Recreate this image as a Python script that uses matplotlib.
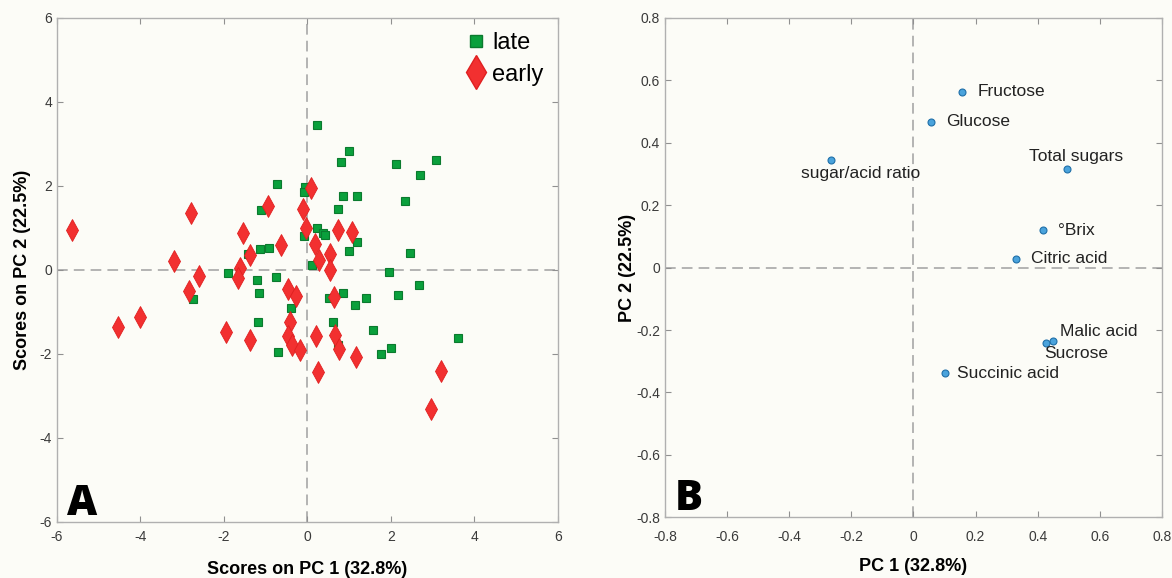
import matplotlib.pyplot as plt
from matplotlib.lines import Line2D

# scores plot (panel A)
late_x = [-0.73, -1.12, -1.14, -0.93, -1.43, -1.91, -1.21, -1.17, -0.75, -2.74,
          -1.19, -0.40, -0.71, 0.24, 0.99, 0.80, 2.11, 3.07, 2.69, -0.05,
          -0.08, 0.84, 1.19, 2.33, 0.74, 0.22, 0.37, 0.42, -0.09, 1.18,
          1.00, 2.45, 0.11, 1.96, 2.67, 2.17, 0.86, 0.52, 1.41, 1.14,
          0.60, 1.56, 3.61, 0.72, 1.77, 1.99]
late_y = [2.04, 1.42, 0.50, 0.52, 0.39, -0.07, -0.25, -0.56, -0.17, -0.70,
          -1.23, -0.91, -1.96, 3.46, 2.83, 2.58, 2.53, 2.61, 2.27, 1.98,
          1.85, 1.75, 1.77, 1.65, 1.46, 1.01, 0.87, 0.82, 0.80, 0.66,
          0.45, 0.40, 0.11, -0.04, -0.35, -0.60, -0.56, -0.68, -0.68, -0.83,
          -1.23, -1.42, -1.61, -1.79, -1.99, -1.85]

early_x = [-5.63, -2.80, -3.20, -2.60, -2.83, -4.53, -4.01, -1.54, -1.38, -1.61,
           -1.66, -1.94, -1.38, -0.94, -0.64, -0.47, -0.28, -0.41, -0.47, -0.37,
           -0.18, -0.10, 0.09, -0.04, 0.74, 1.06, 0.18, 0.53, 0.27, 0.53,
           0.64, 0.21, 0.67, 0.75, 1.16, 0.25, 3.21, 2.95]
early_y = [0.95, 1.36, 0.22, -0.15, -0.50, -1.36, -1.11, 0.89, 0.35, 0.05,
           -0.19, -1.47, -1.66, 1.53, 0.59, -0.46, -0.63, -1.25, -1.57, -1.78,
           -1.90, 1.44, 1.94, 1.00, 0.96, 0.90, 0.61, 0.37, 0.24, -0.01,
           -0.65, -1.58, -1.56, -1.89, -2.08, -2.44, -2.41, -3.31]

# loadings plot (panel B)
var_names = ["Fructose", "Glucose", "sugar/acid ratio", "Total sugars", "\u00b0Brix",
             "Citric acid", "Malic acid", "Sucrose", "Succinic acid"]
load_x = [0.156, 0.057, -0.265, 0.494, 0.417, 0.330, 0.450, 0.427, 0.100]
load_y = [0.563, 0.467, 0.346, 0.317, 0.120, 0.029, -0.235, -0.240, -0.339]
# label offsets in points
lab_off = [(11, 0), (11, 0), (-22, -10), (-27, 9), (11, 0),
           (11, 0), (5, 7), (-1, -8), (9, 0)]

bg = '#fcfcf7'
plt.rcParams['font.family'] = ['Liberation Sans', 'DejaVu Sans']
plt.rcParams['axes.unicode_minus'] = False

fig = plt.figure(figsize=(11.72, 5.78), dpi=100, facecolor=bg)
axA = fig.add_axes([0.0486, 0.097, 0.4275, 0.872])
axB = fig.add_axes([0.5674, 0.105, 0.4240, 0.864])

for ax in (axA, axB):
    ax.set_facecolor(bg)
    for s in ax.spines.values():
        s.set_color('#b0b0b0')
        s.set_linewidth(1.0)
    ax.tick_params(direction='in', length=4, width=0.8, color='#909090',
                   labelsize=10, labelcolor='#3a3a3a', top=True, right=True)
    ax.axhline(0, color='#a0a0a0', lw=1.1, ls=(0, (7, 4)), zorder=1)
    ax.axvline(0, color='#a0a0a0', lw=1.1, ls=(0, (7, 4)), zorder=1)

label_font = dict(family=['Liberation Sans Narrow', 'Liberation Sans'],
                  fontweight='bold', fontsize=13)

# panel A
axA.plot(late_x, late_y, 's', ms=5.5, mfc='#0aa03c', mec='#0b7a2e', mew=0.8,
         ls='none', zorder=3)
axA.plot(early_x, early_y, 'd', ms=11, mfc='#f23030', mec='#e02020', mew=0.6,
         ls='none', zorder=3)
axA.set_xlim(-6, 6)
axA.set_ylim(-6, 6)
axA.set_xticks([-6, -4, -2, 0, 2, 4, 6])
axA.set_yticks([-6, -4, -2, 0, 2, 4, 6])
axA.tick_params(axis='x', pad=6)
axA.set_xlabel("Scores on PC 1 (32.8%)", labelpad=12, **label_font)
axA.set_ylabel("Scores on PC 2 (22.5%)", labelpad=6, **label_font)
handles = [Line2D([], [], marker='s', ms=8, mfc='#0aa03c', mec='#0b7a2e', ls='none'),
           Line2D([], [], marker='d', ms=17, mfc='#f23030', mec='#e02020', ls='none')]
axA.legend(handles, ["late", "early"], loc='upper right', frameon=False,
           fontsize=17, handletextpad=0.2, labelspacing=0.4,
           borderaxespad=0.2, handlelength=1.0)
axA.text(0.02, 0.014, "A", transform=axA.transAxes, fontsize=30,
         fontweight='heavy', family=['Open Sans', 'DejaVu Sans'], va='baseline')

# panel B
axB.plot(load_x, load_y, 'o', ms=5, mfc='#4aa3dc', mec='#1f6fa8', mew=0.8,
         ls='none', zorder=3)
for name, x, y, off in zip(var_names, load_x, load_y, lab_off):
    axB.annotate(name, (x, y), xytext=off, textcoords='offset points',
                 ha='left', va='center', fontsize=12.5, color='#222222')
axB.set_xlim(-0.8, 0.8)
axB.set_ylim(-0.8, 0.8)
ticks = [-0.8, -0.6, -0.4, -0.2, 0, 0.2, 0.4, 0.6, 0.8]
tick_labels = ["-0.8", "-0.6", "-0.4", "-0.2", "0", "0.2", "0.4", "0.6", "0.8"]
axB.set_xticks(ticks)
axB.set_yticks(ticks)
axB.set_xticklabels(tick_labels)
axB.set_yticklabels(tick_labels)
axB.tick_params(axis='x', pad=9)
axB.set_xlabel("PC 1 (32.8%)", labelpad=10, **label_font)
axB.set_ylabel("PC 2 (22.5%)", labelpad=0, **label_font)
axB.text(0.02, 0.014, "B", transform=axB.transAxes, fontsize=30,
         fontweight='heavy', family=['Open Sans', 'DejaVu Sans'], va='baseline')

fig.savefig("out.png", dpi=100, facecolor=bg)
